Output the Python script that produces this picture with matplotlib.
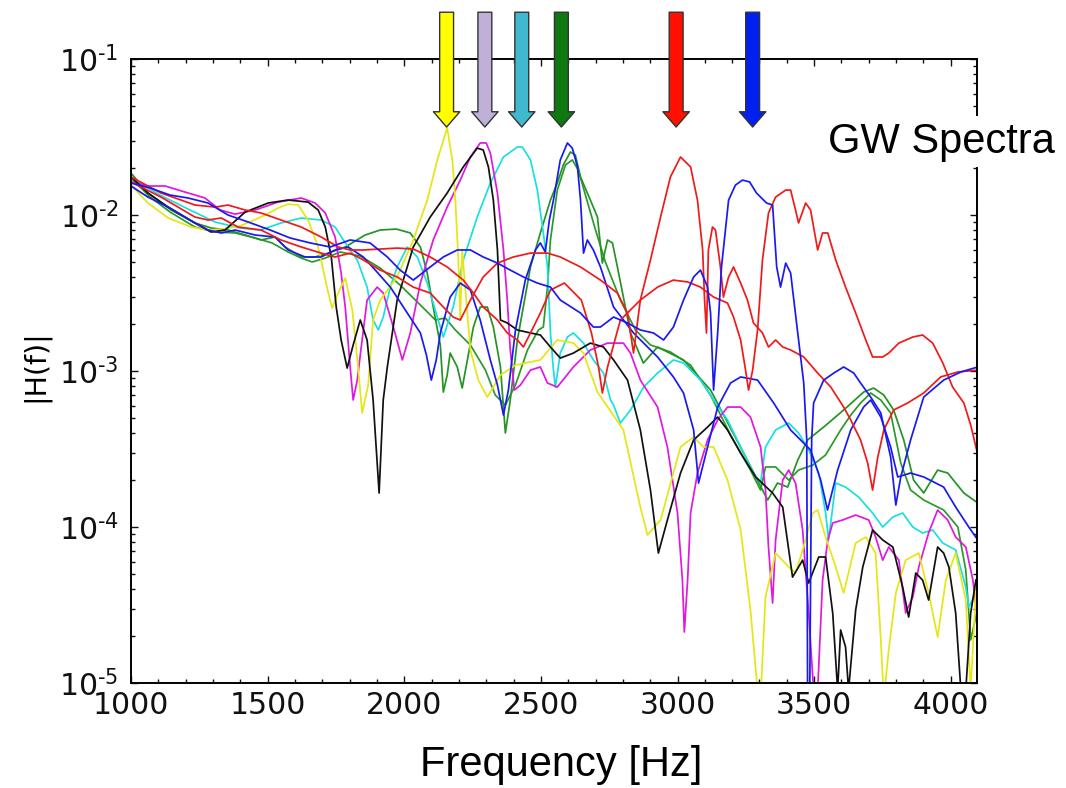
import numpy as np
import matplotlib
matplotlib.use('Agg')
import matplotlib.pyplot as plt
from matplotlib.ticker import MultipleLocator, LogLocator, NullFormatter, FuncFormatter

# frequency [Hz] and log10 |H(f)|
yellow_f = [1000, 1062, 1136, 1220, 1282, 1330, 1399, 1454, 1491, 1538, 1575, 1612, 1648, 1685,
            1722, 1736, 1758, 1784, 1810, 1832, 1846, 1868, 1886, 1912, 1974, 2033, 2084, 2121,
            2157, 2176, 2187, 2198, 2205, 2212, 2227, 2242, 2271, 2304, 2352, 2407, 2498, 2560,
            2619, 2656, 2707, 2802, 2864, 2890, 2938, 3011, 3059, 3095, 3132, 3183, 3231, 3267,
            3293, 3304, 3322, 3359, 3407, 3432, 3469, 3495, 3513, 3542, 3579, 3608, 3652, 3689,
            3725, 3744, 3755, 3773, 3799, 3835, 3883, 3919, 3952, 3982, 4018, 4055, 4073, 4092]
yellow_lg = [-1.808, -1.923, -2.019, -2.077, -2.096, -2.09, -2.07, -2.03, -2.0, -1.955, -1.93,
             -1.936, -2.032, -2.205, -2.5, -2.596, -2.5, -2.404, -2.609, -2.994, -3.269, -3.09,
             -2.673, -2.545, -2.397, -2.160, -1.904, -1.647, -1.442, -1.647, -1.904, -2.288,
             -2.673, -2.224, -2.545, -2.865, -3.058, -3.167, -3.026, -2.962, -2.929, -2.801,
             -2.821, -2.885, -3.135, -3.378, -3.872, -4.051, -3.955, -3.487, -3.423, -3.487,
             -3.487, -3.699, -4.019, -4.532, -5.045, -5.1, -4.449, -4.167, -4.256, -4.295,
             -4.083, -3.91, -3.891, -4.064, -4.256, -4.423, -4.103, -4.064, -4.167, -4.724,
             -5.1, -4.788, -4.423, -4.212, -4.167, -4.423, -4.705, -4.34, -4.167, -4.468,
             -5.045, -4.404]

black_f = [1000, 1062, 1136, 1234, 1293, 1344, 1418, 1502, 1575, 1648, 1685, 1711, 1733, 1751,
           1769, 1791, 1813, 1839, 1864, 1886, 1908, 1923, 1938, 1974, 2033, 2095, 2157, 2216,
           2267, 2289, 2308, 2326, 2341, 2352, 2377, 2414, 2462, 2498, 2535, 2571, 2619, 2681,
           2729, 2766, 2817, 2864, 2901, 2930, 2963, 3011, 3059, 3110, 3147, 3183, 3231, 3286,
           3348, 3385, 3421, 3458, 3480, 3517, 3542, 3568, 3586, 3597, 3615, 3626, 3652, 3678,
           3714, 3751, 3788, 3824, 3846, 3872, 3897, 3919, 3952, 3974, 3993, 4018, 4037, 4055,
           4073, 4092]
black_lg = [-1.756, -1.859, -1.949, -2.051, -2.109, -2.096, -1.981, -1.923, -1.904, -1.917,
            -1.968, -2.077, -2.269, -2.59, -2.801, -2.981, -2.833, -2.673, -2.801, -3.186,
            -3.782, -3.186, -2.974, -2.545, -2.205, -2.013, -1.859, -1.692, -1.571, -1.583,
            -1.692, -1.904, -2.224, -2.673, -2.692, -2.737, -2.756, -2.769, -2.846, -2.917,
            -2.885, -2.821, -2.846, -2.929, -3.058, -3.378, -3.763, -4.167, -3.955, -3.654,
            -3.442, -3.359, -3.295, -3.378, -3.526, -3.679, -3.782, -3.872, -4.321, -4.212,
            -4.359, -4.192, -4.192, -4.551, -5.045, -4.66, -4.769, -5.045, -4.532, -4.256,
            -4.019, -4.083, -4.128, -4.385, -4.577, -4.295, -4.34, -4.468, -4.128, -4.167,
            -4.256, -4.551, -5.045, -5.045, -4.551, -4.34]

magenta_f = [1000, 1062, 1125, 1198, 1271, 1326, 1381, 1454, 1538, 1623, 1674, 1711, 1747, 1769,
             1784, 1802, 1813, 1828, 1839, 1864, 1901, 1923, 1960, 1993, 2022, 2059, 2106, 2157,
             2205, 2242, 2278, 2300, 2315, 2341, 2363, 2377, 2388, 2403, 2425, 2462, 2498, 2524,
             2560, 2619, 2681, 2744, 2802, 2828, 2864, 2927, 2963, 3000, 3018, 3025, 3037, 3048,
             3073, 3110, 3147, 3183, 3231, 3267, 3304, 3322, 3333, 3348, 3359, 3385, 3407, 3432,
             3458, 3480, 3498, 3513, 3531, 3550, 3568, 3604, 3652, 3700, 3725, 3751, 3773, 3810,
             3835, 3861, 3883, 3919, 3952, 3989, 4018, 4055, 4081, 4095]
magenta_lg = [-1.788, -1.814, -1.814, -1.853, -1.891, -1.968, -1.994, -1.968, -1.917, -1.891,
              -1.923, -1.987, -2.141, -2.372, -2.59, -2.974, -3.186, -3.058, -2.897, -2.545,
              -2.462, -2.5, -2.718, -2.929, -2.756, -2.436, -2.160, -1.949, -1.776, -1.628,
              -1.538, -1.538, -1.603, -1.859, -2.224, -2.545, -2.865, -3.122, -3.09, -2.994,
              -2.974, -3.077, -3.103, -2.974, -2.865, -2.821, -2.821, -2.885, -3.058, -3.231,
              -3.487, -3.91, -4.34, -4.673, -4.34, -3.91, -3.654, -3.442, -3.314, -3.231,
              -3.231, -3.295, -3.487, -3.763, -4.128, -4.487, -4.083, -3.699, -3.635, -3.718,
              -4.019, -4.551, -5.045, -5.045, -4.34, -4.083, -3.974, -3.955, -3.923, -3.955,
              -4.064, -4.212, -4.128, -4.212, -4.551, -4.449, -4.256, -4.038, -3.891, -3.955,
              -4.064, -4.128, -4.34, -4.551]

cyan_f = [1000, 1106, 1216, 1308, 1399, 1473, 1549, 1623, 1696, 1747, 1777, 1828, 1864, 1886,
          1905, 1923, 1949, 1974, 2011, 2048, 2084, 2121, 2143, 2179, 2216, 2267, 2315, 2363,
          2414, 2432, 2462, 2487, 2509, 2524, 2535, 2546, 2553, 2571, 2597, 2619, 2656, 2692,
          2729, 2755, 2766, 2791, 2828, 2876, 2927, 2985, 3022, 3084, 3132, 3183, 3231, 3278,
          3304, 3322, 3359, 3407, 3443, 3480, 3517, 3542, 3553, 3579, 3615, 3663, 3714, 3751,
          3788, 3824, 3861, 3897, 3934, 3971, 4018, 4055, 4066, 4092]
cyan_lg = [-1.763, -1.872, -1.968, -2.045, -2.083, -2.096, -2.051, -2.019, -2.032, -2.077,
           -2.160, -2.288, -2.462, -2.673, -2.737, -2.654, -2.462, -2.333, -2.205, -2.269,
           -2.436, -2.654, -2.782, -2.590, -2.288, -2.013, -1.795, -1.628, -1.564, -1.564,
           -1.647, -1.840, -2.115, -2.333, -2.756, -2.994, -3.103, -2.885, -2.782, -2.756,
           -2.821, -2.929, -3.013, -3.186, -3.218, -3.333, -3.25, -3.103, -3.013, -2.929,
           -2.949, -3.058, -3.186, -3.314, -3.487, -3.654, -3.718, -3.487, -3.378, -3.333,
           -3.397, -3.506, -3.654, -3.91, -4.083, -3.718, -3.744, -3.808, -3.91, -4.0,
           -3.936, -3.91, -4.0, -4.038, -4.019, -4.103, -4.147, -4.385, -4.513, -4.423]

green_a_f = [1000, 1062, 1147, 1234, 1293, 1355, 1418, 1476, 1527, 1564, 1623, 1674, 1722, 1784,
             1857, 1912, 1971, 2022, 2059, 2084, 2106, 2132, 2143, 2157, 2168, 2194, 2212, 2231,
             2253, 2278, 2304, 2326, 2352, 2370, 2388, 2414, 2462, 2498, 2535, 2560, 2582, 2608,
             2626, 2645, 2681, 2707, 2725, 2744, 2762, 2780, 2828, 2875, 2927, 3022, 3121, 3242,
             3330, 3366, 3403, 3440, 3476, 3535, 3608, 3681, 3718, 3755, 3791, 3828, 3864, 3901,
             3952, 3989, 4048, 4099]
green_a_lg = [-1.731, -1.859, -1.968, -2.051, -2.083, -2.096, -2.128, -2.160, -2.141, -2.205,
              -2.269, -2.269, -2.244, -2.205, -2.128, -2.096, -2.090, -2.115, -2.205, -2.372,
              -2.590, -2.833, -3.135, -3.026, -2.885, -2.974, -3.109, -2.929, -2.718, -2.590,
              -2.590, -2.718, -2.974, -3.397, -3.186, -2.801, -2.333, -2.115, -1.904, -1.795,
              -1.679, -1.596, -1.615, -1.756, -1.904, -2.013, -2.308, -2.160, -2.179, -2.333,
              -2.756, -2.949, -2.846, -2.929, -3.122, -3.526, -3.827, -3.718, -3.744, -3.571,
              -3.442, -3.359, -3.25, -3.135, -3.109, -3.154, -3.25, -3.442, -3.699, -3.782,
              -3.635, -3.654, -3.782, -3.846]

green_b_f = [1000, 1070, 1143, 1234, 1308, 1381, 1454, 1516, 1575, 1623, 1663, 1711, 1766, 1839,
             1912, 1985, 2059, 2114, 2150, 2187, 2242, 2297, 2333, 2370, 2407, 2451, 2491, 2509,
             2524, 2535, 2560, 2590, 2615, 2637, 2663, 2700, 2736, 2791, 2846, 2901, 2974, 3048,
             3121, 3194, 3267, 3304, 3322, 3359, 3407, 3443, 3495, 3542, 3597, 3634, 3670, 3707,
             3744, 3780, 3817, 3853, 3901, 3974, 4026, 4055, 4073, 4095]
green_b_lg = [-1.763, -1.885, -1.981, -2.077, -2.109, -2.115, -2.147, -2.179, -2.237, -2.276,
              -2.301, -2.276, -2.237, -2.263, -2.340, -2.449, -2.577, -2.673, -2.660, -2.737,
              -2.833, -2.994, -3.154, -3.218, -3.090, -2.865, -2.737, -2.718, -2.462, -2.160,
              -1.840, -1.679, -1.647, -1.712, -1.872, -2.096, -2.301, -2.545, -2.737, -2.833,
              -2.878, -2.962, -3.154, -3.410, -3.635, -3.763, -3.615, -3.615, -3.699, -3.635,
              -3.603, -3.538, -3.378, -3.282, -3.205, -3.141, -3.186, -3.269, -3.590, -3.763,
              -3.827, -3.891, -4.0, -4.276, -4.724, -4.551]

blue_a_f = [1000, 1062, 1136, 1234, 1282, 1330, 1381, 1454, 1527, 1575, 1637, 1696, 1747, 1795,
            1850, 1894, 1949, 2011, 2059, 2081, 2099, 2117, 2132, 2168, 2205, 2242, 2278, 2315,
            2341, 2363, 2381, 2407, 2443, 2480, 2498, 2516, 2531, 2546, 2571, 2597, 2615, 2634,
            2645, 2656, 2670, 2692, 2718, 2766, 2839, 2927, 2985, 3022, 3059, 3077, 3110, 3147,
            3194, 3231, 3293, 3352, 3414, 3487, 3524, 3549, 3586, 3634, 3681, 3707, 3744, 3780,
            3806, 3853, 3901, 3974, 4018, 4066, 4099]
blue_a_lg = [-1.814, -1.885, -1.949, -2.051, -2.096, -2.115, -2.096, -2.128, -2.141, -2.224,
             -2.269, -2.269, -2.224, -2.205, -2.269, -2.353, -2.462, -2.628, -2.756, -2.897,
             -3.058, -2.929, -2.756, -2.526, -2.436, -2.481, -2.673, -2.929, -3.090, -3.282,
             -3.122, -2.737, -2.417, -2.224, -2.179, -2.237, -2.032, -1.904, -1.647, -1.538,
             -1.571, -1.692, -1.904, -2.244, -2.160, -2.224, -2.333, -2.590, -2.756, -2.910,
             -3.038, -3.141, -3.378, -3.718, -3.487, -3.231, -3.077, -3.038, -3.058, -3.205,
             -3.378, -3.506, -3.699, -3.891, -3.635, -3.378, -3.231, -3.186, -3.295, -3.487,
             -3.679, -3.654, -3.679, -3.744, -3.872, -4.0, -4.083]

blue_b_f = [1000, 1070, 1143, 1209, 1282, 1355, 1429, 1509, 1582, 1656, 1729, 1802, 1875, 1938,
            1985, 2033, 2095, 2143, 2194, 2242, 2289, 2341, 2388, 2436, 2487, 2535, 2571, 2645,
            2692, 2718, 2766, 2817, 2864, 2912, 2949, 2985, 3022, 3059, 3084, 3110, 3121, 3132,
            3147, 3161, 3187, 3212, 3238, 3264, 3289, 3326, 3348, 3363, 3377, 3396, 3414, 3440,
            3462, 3473, 3476, 3484, 3491, 3498, 3535, 3572, 3608, 3645, 3670, 3707, 3744, 3780,
            3799, 3817, 3853, 3901, 3974, 4037, 4099]
blue_b_lg = [-1.795, -1.827, -1.872, -1.891, -1.923, -2.0, -2.045, -2.096, -2.147, -2.179,
             -2.205, -2.160, -2.179, -2.269, -2.353, -2.417, -2.333, -2.269, -2.224, -2.224,
             -2.269, -2.308, -2.353, -2.397, -2.436, -2.462, -2.545, -2.628, -2.718, -2.718,
             -2.654, -2.692, -2.737, -2.756, -2.801, -2.718, -2.545, -2.397, -2.353, -2.462,
             -2.628, -3.122, -2.756, -2.333, -1.904, -1.808, -1.776, -1.788, -1.859, -1.923,
             -1.936, -2.333, -2.462, -2.308, -2.372, -2.756, -3.077, -3.442, -5.045, -5.045,
             -3.442, -3.205, -3.058, -3.013, -2.974, -3.013, -3.077, -3.167, -3.269, -3.551,
             -3.859, -3.679, -3.442, -3.167, -3.058, -3.006, -2.974]

red_a_f = [1000, 1110, 1172, 1234, 1282, 1330, 1392, 1476, 1549, 1623, 1696, 1747, 1802, 1850,
           1912, 1974, 2033, 2095, 2143, 2179, 2205, 2242, 2289, 2341, 2399, 2462, 2524, 2571,
           2645, 2718, 2780, 2817, 2839, 2864, 2901, 2938, 2974, 3011, 3048, 3073, 3092, 3099,
           3106, 3113, 3128, 3139, 3157, 3168, 3187, 3205, 3231, 3256, 3278, 3311, 3333, 3359,
           3385, 3414, 3462, 3513, 3561, 3608, 3634, 3670, 3696, 3714, 3733, 3755, 3791, 3842,
           3901, 3963, 4026, 4099]
red_a_lg = [-1.788, -1.885, -1.949, -2.013, -2.032, -2.019, -2.077, -2.096, -2.160, -2.205,
            -2.244, -2.269, -2.244, -2.288, -2.353, -2.397, -2.462, -2.5, -2.590, -2.654,
            -2.673, -2.545, -2.397, -2.308, -2.269, -2.244, -2.244, -2.269, -2.333, -2.417,
            -2.5, -2.628, -2.885, -2.545, -2.288, -2.013, -1.756, -1.628, -1.692, -1.904,
            -2.224, -2.545, -2.756, -2.224, -2.077, -2.096, -2.333, -2.526, -2.397, -2.333,
            -2.436, -2.545, -2.692, -2.756, -2.846, -2.801, -2.846, -2.865, -2.910, -3.013,
            -3.103, -3.231, -3.314, -3.442, -3.590, -3.763, -3.551, -3.378, -3.25, -3.205,
            -3.141, -3.038, -3.006, -2.994]

red_b_f = [1000, 1110, 1183, 1234, 1308, 1355, 1418, 1476, 1549, 1623, 1696, 1758, 1802, 1850,
           1912, 1974, 2033, 2095, 2157, 2216, 2253, 2289, 2341, 2377, 2414, 2436, 2462, 2498,
           2535, 2586, 2648, 2685, 2711, 2725, 2744, 2791, 2864, 2927, 2985, 3037, 3084, 3132,
           3183, 3205, 3231, 3249, 3260, 3275, 3293, 3311, 3333, 3359, 3396, 3414, 3432, 3443,
           3469, 3487, 3513, 3531, 3550, 3579, 3615, 3652, 3689, 3714, 3751, 3773, 3810, 3861,
           3897, 3934, 3971, 4007, 4048, 4073, 4099]
red_b_lg = [-1.756, -1.859, -1.904, -1.936, -1.949, -1.936, -1.968, -1.987, -2.032, -2.077,
            -2.141, -2.205, -2.224, -2.224, -2.218, -2.212, -2.218, -2.269, -2.333, -2.417,
            -2.5, -2.590, -2.673, -2.756, -2.801, -2.846, -2.756, -2.628, -2.481, -2.436,
            -2.545, -2.756, -2.974, -3.141, -2.974, -2.673, -2.545, -2.462, -2.417, -2.429,
            -2.462, -2.526, -2.564, -2.654, -2.801, -2.994, -3.122, -2.994, -2.737, -2.288,
            -1.987, -1.885, -1.840, -1.840, -1.968, -2.051, -1.923, -1.968, -2.224, -2.115,
            -2.115, -2.288, -2.462, -2.628, -2.801, -2.910, -2.910, -2.885, -2.821, -2.782,
            -2.769, -2.821, -2.949, -3.103, -3.205, -3.346, -3.538]

# peak frequencies marked with arrows above the panel
arrow_f = [2155, 2295, 2430, 2575, 2995, 3275]
arrow_colors = ['#ffff00', '#c0b0d8', '#40b8d0', '#107810', '#ff1000', '#0020f0']


def decade_label(v, pos):
    # short hyphen in the exponent, as in the original figure
    return r'$10^{\text{-}%d}$' % round(-np.log10(v))


def main():
    plt.rcParams['font.family'] = 'DejaVu Sans'
    plt.rcParams['mathtext.default'] = 'regular'

    fig = plt.figure(figsize=(10.66, 7.88), dpi=100)
    ax = fig.add_axes([0.1229, 0.1332, 0.7936, 0.7919])

    curves = [
        (green_b_f, green_b_lg, '#2a9a2a'),
        (green_a_f, green_a_lg, '#249424'),
        (cyan_f, cyan_lg, '#18e0e0'),
        (magenta_f, magenta_lg, '#e018e0'),
        (yellow_f, yellow_lg, '#e6e614'),
        (black_f, black_lg, '#111111'),
        (blue_a_f, blue_a_lg, '#1a1af0'),
        (red_b_f, red_b_lg, '#f01a1a'),
        (red_a_f, red_a_lg, '#f01a1a'),
        (blue_b_f, blue_b_lg, '#1a1af0'),
    ]
    for f, lg, c in curves:
        ax.plot(f, 10.0 ** np.asarray(lg), color=c, lw=1.25)

    ax.set_yscale('log')
    ax.set_xlim(1000, 4096)
    ax.set_ylim(1e-5, 1e-1)
    ax.xaxis.set_major_locator(MultipleLocator(500))
    ax.xaxis.set_minor_locator(MultipleLocator(100))
    ax.yaxis.set_major_locator(LogLocator(base=10))
    ax.yaxis.set_major_formatter(FuncFormatter(decade_label))
    ax.yaxis.set_minor_locator(LogLocator(base=10, subs=np.arange(2, 10)))
    ax.yaxis.set_minor_formatter(NullFormatter())

    ax.tick_params(which='both', direction='in', top=True, right=True,
                   labelsize=21.5, width=1, colors='#111111')
    ax.tick_params(which='major', length=5)
    ax.tick_params(which='minor', length=3)
    ax.tick_params(axis='x', pad=5.5)
    ax.tick_params(axis='y', pad=9)
    for s in ax.spines.values():
        s.set_linewidth(1.4)

    ax.set_xlabel('Frequency [Hz]', fontsize=30, family='Liberation Sans')
    ax.xaxis.set_label_coords(0.508, -0.10)
    ax.set_ylabel('|H(f)|', fontsize=20.5)
    ax.yaxis.set_label_coords(-0.096, 0.508)

    # arrows marking the peaks, drawn over the top spine
    for f, c in zip(arrow_f, arrow_colors):
        ax.annotate('', xy=(f, 0.891), xycoords=('data', 'axes fraction'),
                    xytext=(f, 1.075), textcoords=('data', 'axes fraction'),
                    arrowprops=dict(arrowstyle='simple,head_length=0.55,head_width=0.95,tail_width=0.5',
                                    mutation_scale=20, fc=c, ec='#333333', lw=1,
                                    shrinkA=0, shrinkB=0),
                    annotation_clip=False, zorder=5)

    fig.text(0.777, 0.806, 'GW Spectra', fontsize=30, family='Liberation Sans',
             ha='left', va='baseline', zorder=10,
             bbox=dict(fc='white', ec='none', pad=4))

    fig.savefig('out.png', dpi=100)


if __name__ == '__main__':
    main()
